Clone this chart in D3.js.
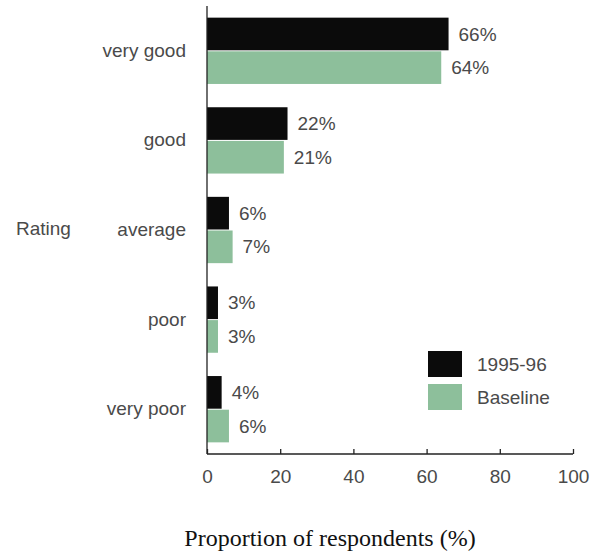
<!DOCTYPE html>
<html>
<head>
<meta charset="utf-8">
<script src="https://cdn.jsdelivr.net/npm/d3@7"></script>
<style>
  body { margin: 0; background: #fff; }
  .axis text { font-family: "Liberation Sans", Arial, sans-serif; font-size: 19px; fill: #4a4a4a; }
  .axis path, .axis line { stroke: #222; stroke-width: 1.3; }
</style>
</head>
<body>
<div id="chart"></div>
<script>
const ratings = ["very good", "good", "average", "poor", "very poor"];
const current = [66, 22, 6, 3, 4];      // 1995-96
const baseline = [64, 21, 7, 3, 6];     // Baseline
const seriesNames = ["1995-96", "Baseline"];
const xTicks = [0, 20, 40, 60, 80, 100];

const colors = ["#0b0b0b", "#8dbf9b"];
const width = 595, height = 556;
const x0 = 207, x1 = 573, yTop = 6, yBottom = 454;
const fontSans = "Liberation Sans, Arial, sans-serif";

let svg = d3.select("#chart").append("svg")
    .attr("width", width)
    .attr("height", height);

const xScale = d3.scaleLinear().domain([0, 100]).range([x0, x1]);

const yScale = d3.scaleBand()
    .domain(ratings)
    .range([yTop, yBottom])
    .paddingInner(0.26)
    .paddingOuter(0.13);

const sub = d3.scaleBand()
    .domain(seriesNames)
    .range([0, yScale.bandwidth()])
    .paddingInner(0.03);

const rows = ratings.map((r, i) => ({ rating: r, values: [current[i], baseline[i]] }));

// bars
const group = svg.append("g")
    .selectAll("g")
    .data(rows)
    .join("g")
    .attr("transform", d => `translate(0,${yScale(d.rating)})`);

group.selectAll("rect")
    .data(d => d.values.map((v, j) => ({ v: v, s: seriesNames[j], j: j })))
    .join("rect")
    .attr("x", xScale(0))
    .attr("y", d => sub(d.s))
    .attr("width", d => xScale(d.v) - xScale(0))
    .attr("height", sub.bandwidth())
    .attr("fill", d => colors[d.j]);

group.selectAll("text")
    .data(d => d.values.map((v, j) => ({ v: v, s: seriesNames[j] })))
    .join("text")
    .attr("x", d => xScale(d.v) + 10)
    .attr("y", d => sub(d.s) + sub.bandwidth() / 2)
    .attr("dy", "0.35em")
    .attr("font-family", fontSans)
    .attr("font-size", 19)
    .attr("fill", "#4a4a4a")
    .text(d => d.v + "%");

// x axis
svg.append("g")
    .attr("class", "axis x-axis")
    .attr("transform", `translate(0,${yBottom})`)
    .call(d3.axisBottom(xScale).tickValues(xTicks).tickSizeInner(-5).tickSizeOuter(0).tickPadding(16));

svg.select(".x-axis .domain").attr("d", `M${x0},0H${x1}`);

// y axis
svg.append("g")
    .attr("class", "axis y-axis")
    .attr("transform", `translate(${x0},0)`)
    .call(d3.axisLeft(yScale).tickSize(0).tickPadding(21));

svg.select(".y-axis .domain").attr("d", `M0,${yTop}V${yBottom}`);

svg.append("text")
    .attr("x", 16)
    .attr("y", 228)
    .attr("dy", "0.35em")
    .attr("font-family", fontSans)
    .attr("font-size", 19)
    .attr("fill", "#4a4a4a")
    .text("Rating");

svg.append("text")
    .attr("x", 330)
    .attr("y", 538)
    .attr("dy", "0.35em")
    .attr("text-anchor", "middle")
    .attr("font-family", "Liberation Serif, Times New Roman, serif")
    .attr("font-size", 24)
    .attr("fill", "#111")
    .text("Proportion of respondents (%)");

// legend
const legend = svg.append("g")
    .selectAll("g")
    .data(seriesNames)
    .join("g")
    .attr("transform", (d, i) => `translate(428,${351 + i * 33})`);

legend.append("rect")
    .attr("width", 34)
    .attr("height", 26)
    .attr("fill", (d, i) => colors[i]);

legend.append("text")
    .attr("x", 49)
    .attr("y", 13)
    .attr("dy", "0.35em")
    .attr("font-family", fontSans)
    .attr("font-size", 19)
    .attr("fill", "#4a4a4a")
    .text(d => d);
</script>
</body>
</html>
